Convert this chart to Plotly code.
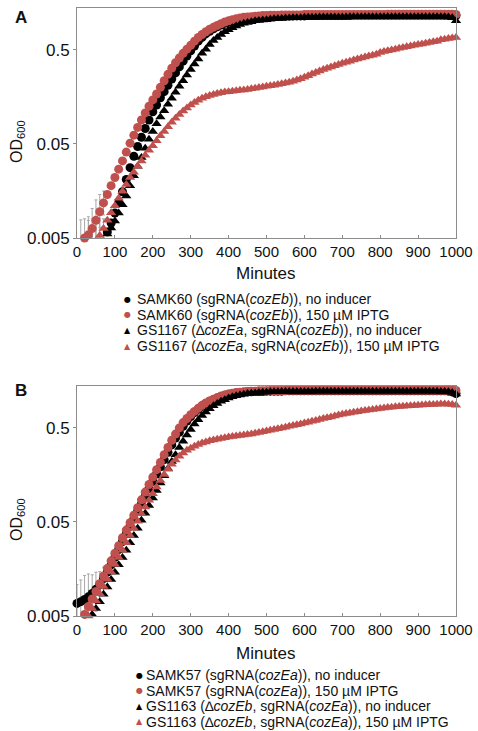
import math
import plotly.graph_objects as go

# ---------------- data (OD600 every 10 min, 0..1000 min) ----------------
minutes = list(range(0, 1001, 10))
N = None

# Panel A
a_samk60_none = [
    N, N, N, N, N, N, N, N, 0.0058, 0.0072,
    0.0092, 0.0118, 0.0155, 0.021, 0.028, 0.037, 0.047, 0.059, 0.073, 0.09,
    0.11, 0.13, 0.155, 0.18, 0.21, 0.245, 0.285, 0.33, 0.38, 0.43,
    0.49, 0.55, 0.62, 0.68, 0.74, 0.79, 0.84, 0.88, 0.92, 0.96,
    0.99, 1.02, 1.04, 1.06, 1.08, 1.09, 1.10, 1.11, 1.12, 1.12,
    1.13, 1.13, 1.14, 1.14, 1.14, 1.15, 1.15, 1.15, 1.15, 1.15,
    1.15, 1.16, 1.16, 1.16, 1.16, 1.16, 1.16, 1.16, 1.16, 1.16,
    1.16, 1.16, 1.16, 1.17, 1.17, 1.17, 1.17, 1.17, 1.17, 1.17,
    1.17, 1.17, 1.17, 1.17, 1.17, 1.17, 1.17, 1.17, 1.17, 1.17,
    1.17, 1.17, 1.17, 1.17, 1.17, 1.17, 1.17, 1.17, 1.17, 1.17,
    1.16]
a_samk60_iptg = [
    N, N, 0.005, 0.0054, 0.0063, 0.0077, 0.0095, 0.0118, 0.0145, 0.018,
    0.022, 0.027, 0.033, 0.041, 0.051, 0.062, 0.075, 0.09, 0.107, 0.126,
    0.147, 0.17, 0.20, 0.235, 0.275, 0.32, 0.365, 0.41, 0.46, 0.51,
    0.56, 0.62, 0.68, 0.73, 0.78, 0.83, 0.87, 0.91, 0.95, 0.99,
    1.02, 1.05, 1.07, 1.09, 1.11, 1.12, 1.13, 1.14, 1.15, 1.16,
    1.16, 1.17, 1.17, 1.17, 1.18, 1.18, 1.18, 1.18, 1.18, 1.18,
    1.19, 1.19, 1.19, 1.19, 1.19, 1.19, 1.19, 1.19, 1.19, 1.19,
    1.19, 1.19, 1.19, 1.19, 1.19, 1.19, 1.19, 1.19, 1.19, 1.19,
    1.19, 1.19, 1.20, 1.20, 1.20, 1.20, 1.20, 1.20, 1.20, 1.20,
    1.20, 1.20, 1.20, 1.20, 1.20, 1.20, 1.20, 1.20, 1.20, 1.20,
    1.19]
a_gs1167_none = [
    N, N, N, N, N, N, N, N, 0.0055, 0.0064,
    0.0076, 0.0092, 0.0113, 0.014, 0.018, 0.023, 0.029, 0.036, 0.045, 0.056,
    0.068, 0.082, 0.097, 0.113, 0.132, 0.153, 0.177, 0.205, 0.235, 0.27,
    0.31, 0.355, 0.40, 0.46, 0.51, 0.57, 0.63, 0.68, 0.73, 0.78,
    0.82, 0.86, 0.90, 0.93, 0.96, 0.98, 1.00, 1.02, 1.03, 1.04,
    1.05, 1.06, 1.07, 1.08, 1.08, 1.09, 1.09, 1.10, 1.10, 1.10,
    1.11, 1.11, 1.11, 1.11, 1.12, 1.12, 1.12, 1.12, 1.12, 1.12,
    1.12, 1.12, 1.13, 1.13, 1.13, 1.13, 1.13, 1.13, 1.13, 1.13,
    1.13, 1.13, 1.13, 1.13, 1.13, 1.13, 1.13, 1.13, 1.13, 1.13,
    1.13, 1.13, 1.13, 1.13, 1.13, 1.13, 1.13, 1.13, 1.12, 1.10,
    1.02]
a_gs1167_iptg = [
    N, N, N, N, N, N, 0.0053, 0.0063, 0.0077, 0.0093,
    0.011, 0.0132, 0.0157, 0.0185, 0.022, 0.025, 0.029, 0.033, 0.038, 0.043,
    0.048, 0.054, 0.061, 0.068, 0.076, 0.085, 0.094, 0.103, 0.112, 0.121,
    0.13, 0.138, 0.146, 0.153, 0.159, 0.164, 0.168, 0.172, 0.175, 0.178,
    0.180, 0.182, 0.184, 0.186, 0.188, 0.19, 0.193, 0.196, 0.199, 0.202,
    0.205, 0.208, 0.211, 0.214, 0.218, 0.222, 0.226, 0.232, 0.239, 0.247,
    0.256, 0.266, 0.277, 0.288, 0.299, 0.31, 0.32, 0.33, 0.34, 0.35,
    0.36, 0.37, 0.38, 0.39, 0.40, 0.41, 0.42, 0.43, 0.44, 0.45,
    0.47, 0.48, 0.49, 0.50, 0.51, 0.52, 0.53, 0.54, 0.55, 0.56,
    0.57, 0.58, 0.59, 0.60, 0.61, 0.62, 0.64, 0.65, 0.66, 0.67,
    0.68]

# Panel B
b_samk57_none = [
    0.0068, 0.0071, 0.0075, 0.008, 0.0087, 0.0096, 0.0108, 0.0125, 0.0147, 0.0175,
    0.021, 0.0255, 0.031, 0.0375, 0.045, 0.054, 0.065, 0.078, 0.094, 0.113,
    0.135, 0.162, 0.193, 0.23, 0.275, 0.33, 0.39, 0.45, 0.52, 0.59,
    0.66, 0.73, 0.79, 0.85, 0.91, 0.96, 1.0, 1.04, 1.08, 1.11,
    1.14, 1.16, 1.18, 1.19, 1.20, 1.21, 1.21, 1.22, 1.22, 1.22,
    1.23, 1.23, 1.23, 1.23, 1.23, 1.24, 1.24, 1.24, 1.24, 1.24,
    1.24, 1.24, 1.24, 1.24, 1.24, 1.24, 1.24, 1.24, 1.24, 1.24,
    1.24, 1.24, 1.24, 1.24, 1.24, 1.24, 1.24, 1.24, 1.24, 1.24,
    1.24, 1.24, 1.24, 1.24, 1.24, 1.24, 1.24, 1.24, 1.24, 1.24,
    1.24, 1.24, 1.24, 1.24, 1.24, 1.24, 1.24, 1.24, 1.23, 1.21,
    1.16]
b_samk57_iptg = [
    N, N, 0.0052, 0.0063, 0.0076, 0.0091, 0.011, 0.0133, 0.016, 0.0193,
    0.0233, 0.028, 0.034, 0.041, 0.049, 0.059, 0.071, 0.086, 0.104, 0.125,
    0.15, 0.18, 0.215, 0.26, 0.31, 0.37, 0.43, 0.50, 0.57, 0.63,
    0.69, 0.75, 0.81, 0.87, 0.92, 0.97, 1.01, 1.05, 1.09, 1.12,
    1.15, 1.17, 1.19, 1.20, 1.21, 1.22, 1.23, 1.23, 1.24, 1.24,
    1.24, 1.25, 1.25, 1.25, 1.25, 1.25, 1.26, 1.26, 1.26, 1.26,
    1.26, 1.26, 1.26, 1.26, 1.26, 1.26, 1.26, 1.26, 1.26, 1.26,
    1.26, 1.26, 1.26, 1.26, 1.26, 1.26, 1.26, 1.26, 1.26, 1.26,
    1.26, 1.26, 1.26, 1.26, 1.26, 1.26, 1.26, 1.26, 1.26, 1.26,
    1.26, 1.26, 1.26, 1.26, 1.26, 1.26, 1.26, 1.26, 1.26, 1.26,
    1.25]
b_gs1163_none = [
    N, N, N, N, 0.0052, 0.006, 0.0071, 0.0085, 0.0102, 0.0122,
    0.0146, 0.0175, 0.021, 0.025, 0.030, 0.036, 0.043, 0.052, 0.062, 0.075,
    0.09, 0.108, 0.13, 0.155, 0.185, 0.22, 0.26, 0.31, 0.36, 0.42,
    0.48, 0.55, 0.61, 0.68, 0.74, 0.80, 0.86, 0.91, 0.96, 1.0,
    1.04, 1.07, 1.10, 1.12, 1.14, 1.16, 1.17, 1.18, 1.19, 1.20,
    1.20, 1.21, 1.21, 1.21, 1.22, 1.22, 1.22, 1.22, 1.22, 1.22,
    1.22, 1.22, 1.22, 1.23, 1.23, 1.23, 1.23, 1.23, 1.23, 1.23,
    1.23, 1.23, 1.23, 1.23, 1.23, 1.23, 1.23, 1.23, 1.23, 1.23,
    1.23, 1.23, 1.23, 1.23, 1.23, 1.23, 1.23, 1.23, 1.23, 1.23,
    1.23, 1.23, 1.23, 1.23, 1.23, 1.23, 1.22, 1.22, 1.21, 1.19,
    1.15]
b_gs1163_iptg = [
    N, N, N, 0.005, 0.006, 0.0072, 0.0086, 0.0103, 0.0123, 0.0147,
    0.0176, 0.021, 0.025, 0.030, 0.036, 0.043, 0.051, 0.061, 0.072, 0.085,
    0.10, 0.118, 0.138, 0.16, 0.182, 0.205, 0.228, 0.25, 0.27, 0.29,
    0.305, 0.32, 0.333, 0.345, 0.355, 0.365, 0.373, 0.38, 0.387, 0.393,
    0.40, 0.405, 0.41, 0.415, 0.42, 0.425, 0.432, 0.44, 0.447, 0.455,
    0.463, 0.472, 0.48, 0.49, 0.50, 0.51, 0.52, 0.53, 0.54, 0.55,
    0.565, 0.575, 0.59, 0.60, 0.615, 0.63, 0.64, 0.655, 0.67, 0.685,
    0.70, 0.71, 0.72, 0.735, 0.745, 0.755, 0.765, 0.775, 0.785, 0.795,
    0.805, 0.815, 0.825, 0.83, 0.84, 0.845, 0.85, 0.855, 0.86, 0.865,
    0.87, 0.875, 0.88, 0.885, 0.89, 0.895, 0.90, 0.90, 0.895, 0.89,
    0.87]

# early-time error bars (standard deviation), panel A and B
errA_minutes = [10, 20, 30, 40, 50, 60, 70]
errA_od = [0.0033, 0.0035, 0.0037, 0.004, 0.0043, 0.0046, 0.005]
errA_up = [0.0045, 0.0045, 0.004, 0.004, 0.0038, 0.0035, 0.003]
errA_down = [0.002, 0.002, 0.002, 0.002, 0.002, 0.002, 0.002]
errA2_minutes = [30, 40, 50, 60, 70]
errA2_od = [0.0054, 0.0063, 0.0077, 0.0095, 0.0118]
errA2_up = [0.003, 0.004, 0.005, 0.005, 0.004]
errA2_down = [0.002, 0.002, 0.003, 0.003, 0.003]
errB_minutes = [0, 10, 20, 30, 40, 50, 60, 70, 80]
errB_od = [0.0068, 0.0071, 0.0075, 0.008, 0.0087, 0.0096, 0.0108, 0.0125, 0.0147]
errB_up = [0.004, 0.005, 0.006, 0.006, 0.005, 0.005, 0.004, 0.004, 0.003]
errB_down = [0.004, 0.004, 0.004, 0.004, 0.004, 0.004, 0.004, 0.004, 0.004]

tick_minutes = [0, 100, 200, 300, 400, 500, 600, 700, 800, 900, 1000]
tick_od = [0.005, 0.05, 0.5]
tick_od_text = ["0.005", "0.05", "0.5"]

legend_A = [
    "SAMK60 (sgRNA(<i>cozEb</i>)), no inducer",
    "SAMK60 (sgRNA(<i>cozEb</i>)), 150 µM IPTG",
    "GS1167 (∆<i>cozEa</i>, sgRNA(<i>cozEb</i>)), no inducer",
    "GS1167 (∆<i>cozEa</i>, sgRNA(<i>cozEb</i>)), 150 µM IPTG",
]
legend_B = [
    "SAMK57 (sgRNA(<i>cozEa</i>)), no inducer",
    "SAMK57 (sgRNA(<i>cozEa</i>)), 150 µM IPTG",
    "GS1163 (∆<i>cozEb</i>, sgRNA(<i>cozEa</i>)), no inducer",
    "GS1163 (∆<i>cozEb</i>, sgRNA(<i>cozEa</i>)), 150 µM IPTG",
]

for arr in (a_samk60_none, a_samk60_iptg, a_gs1167_none, a_gs1167_iptg,
            b_samk57_none, b_samk57_iptg, b_gs1163_none, b_gs1163_iptg):
    assert len(arr) == len(minutes)

# ---------------- styling ----------------
W, H = 478, 731
RED = "#c0504d"
BLACK = "#000000"
ERRC = "#a6a6a6"
AXC = "#8c8c8c"
FONT = "Liberation Sans, Arial, sans-serif"

def fx(p):
    return p / W

def fy(p):
    return 1 - p / H

fig = go.Figure()

def add_err(xs, ys, up, down, xa, ya):
    fig.add_trace(go.Scatter(
        x=xs, y=ys, mode="markers", xaxis=xa, yaxis=ya,
        marker=dict(size=2, opacity=0),
        error_y=dict(type="data", symmetric=False, array=up, arrayminus=down,
                     color=ERRC, thickness=1, width=1.5),
        showlegend=False, hoverinfo="skip"))

add_err(errA_minutes, errA_od, errA_up, errA_down, "x", "y")
add_err(errA2_minutes, errA2_od, errA2_up, errA2_down, "x", "y")
add_err(errB_minutes, errB_od, errB_up, errB_down, "x2", "y2")

styles = [(BLACK, "circle", 9), (RED, "circle", 9),
          (BLACK, "triangle-up", 9), (RED, "triangle-up", 9)]

for arr, (col, sym, sz), name in zip(
        (a_samk60_none, a_samk60_iptg, a_gs1167_none, a_gs1167_iptg), styles, legend_A):
    fig.add_trace(go.Scatter(x=minutes, y=arr, mode="markers", xaxis="x", yaxis="y",
                             marker=dict(color=col, symbol=sym, size=sz, line=dict(width=0)),
                             cliponaxis=False, showlegend=False, name=name))
for arr, (col, sym, sz), name in zip(
        (b_samk57_none, b_samk57_iptg, b_gs1163_none, b_gs1163_iptg), styles, legend_B):
    fig.add_trace(go.Scatter(x=minutes, y=arr, mode="markers", xaxis="x2", yaxis="y2",
                             marker=dict(color=col, symbol=sym, size=sz, line=dict(width=0)),
                             cliponaxis=False, showlegend=False, name=name))

yr = [math.log10(0.005), 0.145]
xdom = [fx(77), fx(456)]

xcommon = dict(range=[0, 1000], tickvals=tick_minutes, ticks="inside", ticklen=3,
               tickcolor=AXC, showline=True, linecolor=AXC, linewidth=1, mirror=True,
               showgrid=False, zeroline=False,
               tickfont=dict(family=FONT, size=15, color="#111"), domain=xdom)
ycommon = dict(type="log", range=yr, tickvals=tick_od, ticktext=tick_od_text,
               ticks="outside", ticklen=3, tickcolor=AXC, showline=True, linecolor=AXC,
               linewidth=1, mirror=True, showgrid=False, zeroline=False,
               tickfont=dict(family=FONT, size=17, color="#111"))

fig.update_layout(
    width=W, height=H, margin=dict(l=0, r=0, t=0, b=0),
    paper_bgcolor="white", plot_bgcolor="white", template="none",
    font=dict(family=FONT, color="#111"), showlegend=False,
    xaxis=dict(**xcommon, anchor="y"),
    yaxis=dict(**ycommon, domain=[fy(238), fy(8)], anchor="x"),
    xaxis2=dict(**xcommon, anchor="y2"),
    yaxis2=dict(**ycommon, domain=[fy(616), fy(386)], anchor="x2"),
)

ann = []
def text(x, y, s, size, xanchor="center", angle=0, family=FONT, color="#111"):
    ann.append(dict(x=fx(x), y=fy(y), xref="paper", yref="paper", text=s, showarrow=False,
                    xanchor=xanchor, yanchor="middle", textangle=angle,
                    font=dict(family=family, size=size, color=color)))

text(21, 17, "<b>A</b>", 17)
text(21, 390, "<b>B</b>", 17)
text(17, 142, "OD<sub>600</sub>", 16, angle=-90)
text(17, 520, "OD<sub>600</sub>", 16, angle=-90)
text(266, 273, "Minutes", 17)
text(266, 653, "Minutes", 17)

glyphs = [("●", BLACK, 8), ("●", RED, 8), ("▲", BLACK, 8), ("▲", RED, 8)]
for i, (lab, (g, col, gs)) in enumerate(zip(legend_A, glyphs)):
    y = 299 + i * 15.7
    text(128, y, g, gs, family="DejaVu Sans", color=col)
    text(135, y, lab, 14, xanchor="left")
for i, (lab, (g, col, gs)) in enumerate(zip(legend_B, glyphs)):
    y = 675 + i * 15.5
    text(139, y, g, gs, family="DejaVu Sans", color=col)
    text(144, y, lab, 14, xanchor="left")

fig.update_layout(annotations=ann)
fig.write_html("out.html",
               config={"displayModeBar": False},
               post_script="document.body.style.margin='0';document.body.style.overflow='hidden';")
